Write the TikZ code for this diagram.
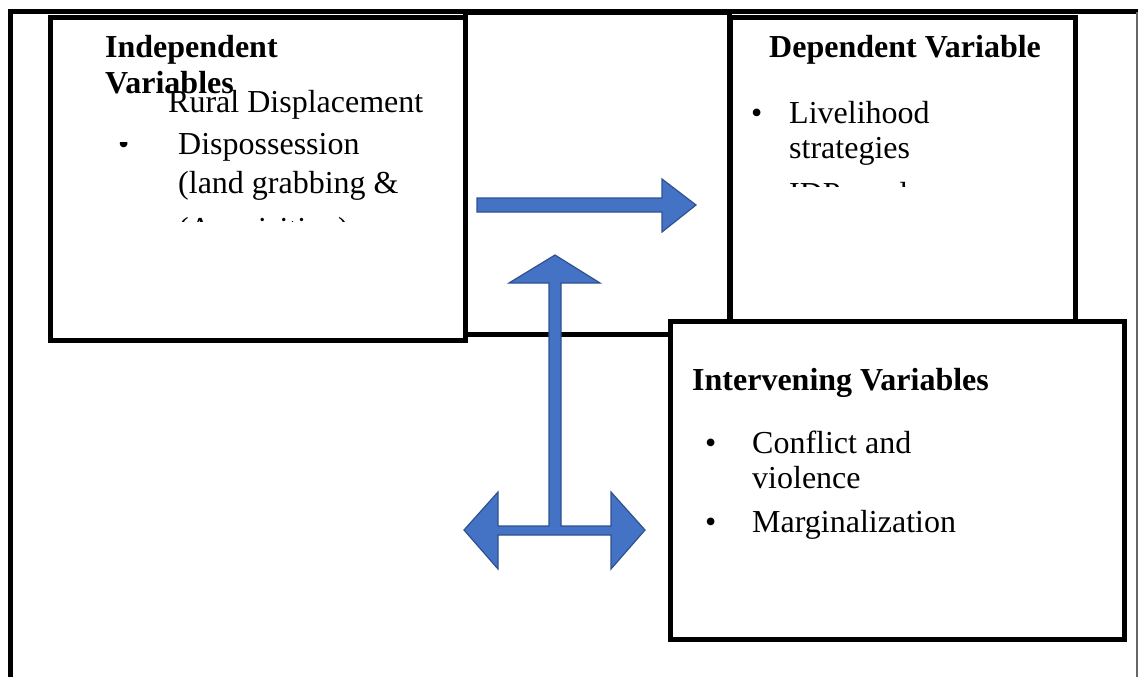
\documentclass[tikz,border=0pt]{standalone}
\usepackage{fontspec}
\setmainfont{Liberation Serif}
\definecolor{arrowblue}{HTML}{4472C4}
\definecolor{arrowedge}{HTML}{2F528F}
\tikzset{
    varbox/.style={draw=black, line width=5pt, fill=white, rectangle,
        inner sep=0pt, outer sep=0pt, anchor=north west},
    vartitle/.style={anchor=base west, inner sep=0pt,
        font=\fontsize{32}{37}\selectfont\bfseries},
    vartext/.style={anchor=base west, inner sep=0pt,
        font=\fontsize{32}{37}\selectfont},
    blockarrow/.style={fill=arrowblue, draw=arrowedge, line width=1.2pt, line join=miter}
}

\begin{document}
\begin{tikzpicture}[x=1pt, y=-1pt]
    \useasboundingbox (0,0) rectangle (1138,677);
    % outer frame
    \draw[line width=5pt] (10,677) -- (10,12) -- (1138,12);
    \draw[line width=1.5pt, black!60] (1137,12) -- (1137,677);
    % boxes
    \node[varbox, minimum width=264pt, minimum height=321pt] (mid) at (465,13) {};
    \node[varbox, minimum width=415pt, minimum height=322pt] (indep) at (50,18) {};
    \node[varbox, minimum width=345pt, minimum height=312pt] (dep) at (730,18) {};
    \node[varbox, minimum width=454pt, minimum height=318pt] (interv) at (670,321) {};
    % arrows
    \coordinate (h1) at (477,198);
    \coordinate (h2) at (696,205);
    \draw[blockarrow] (h1) -- (662,198) -- (662,179) -- (h2) -- (662,232)
        -- (662,212) -- (477,212) -- cycle;
    \coordinate (t1) at (555,255);
    \coordinate (t2) at (464,530);
    \coordinate (t3) at (645,530);
    \draw[blockarrow] (t1) -- (600,283) -- (561,283) -- (561,526) -- (611,526)
        -- (611,492) -- (t3) -- (611,569) -- (611,535) -- (498,535) -- (498,569)
        -- (t2) -- (498,492) -- (498,526) -- (549,526) -- (549,283) -- (509,283) -- cycle;
    % independent
    \node[vartitle] (indepA) at (105,58) {Independent};
    \node[vartitle] (indepB) at (105,93) {Variables};
    \node[vartext] (rural) at (168,112) {Rural Displacement};
    \begin{scope}
        \clip (60,142) rectangle (160,160);
        \node[vartext] (indepDot) at (118,154) {•};
    \end{scope}
    \node[vartext] (dispA) at (178,154) {Dispossession};
    \node[vartext] (dispB) at (178,193) {(land grabbing \&};
    \begin{scope}
        \clip (60,200) rectangle (460,221);
        \node[vartext] (dispC) at (178,239) {(Acquisition)};
    \end{scope}
    % dependent
    \node[vartitle] (depT) at (769,58) {Dependent Variable};
    \node[vartext] (depDot) at (751,123) {•};
    \node[vartext] (liveA) at (789,123) {Livelihood};
    \node[vartext] (liveB) at (789,158) {strategies};
    \begin{scope}
        \clip (740,165) rectangle (1070,186);
        \node[vartext] (liveC) at (789,204) {IDPs and};
    \end{scope}
    % intervening
    \node[vartitle] (intT) at (692,390) {Intervening Variables};
    \node[vartext] (intDotA) at (705,453) {•};
    \node[vartext] (confA) at (752,453) {Conflict and};
    \node[vartext] (confB) at (752,488) {violence};
    \node[vartext] (intDotB) at (705,532) {•};
    \node[vartext] (marg) at (752,532) {Marginalization};
\end{tikzpicture}
\end{document}
